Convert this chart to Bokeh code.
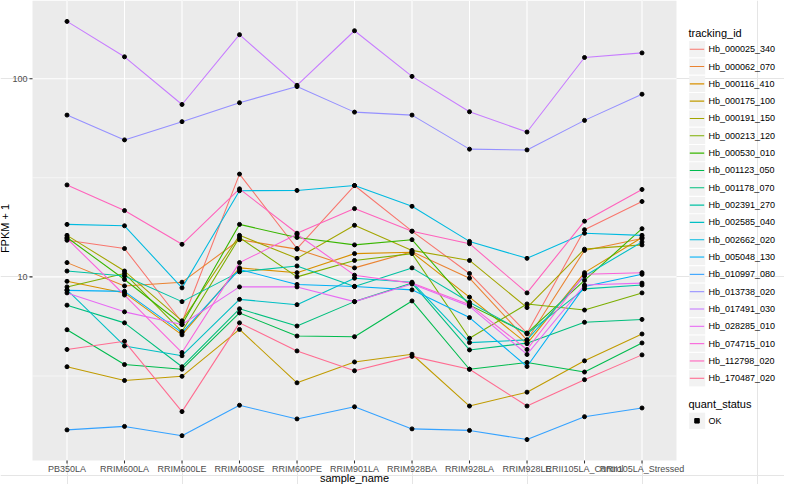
import math
import numpy as np
from bokeh.plotting import figure
from bokeh.models import Range1d, LogScale, ColumnDataSource
from bokeh.embed import file_html
from bokeh.resources import INLINE
from bokeh.core.properties import value

FONT = "Liberation Sans"

samples = ["PB350LA", "RRIM600LA", "RRIM600LE", "RRIM600SE", "RRIM600PE", "RRIM901LA",
           "RRIM928BA", "RRIM928LA", "RRIM928LE", "RRII105LA_Control", "RRII105LA_Stressed"]

tracking_ids = ["Hb_000025_340", "Hb_000062_070", "Hb_000116_410", "Hb_000175_100",
                "Hb_000191_150", "Hb_000213_120", "Hb_000530_010", "Hb_001123_050",
                "Hb_001178_070", "Hb_002391_270", "Hb_002585_040", "Hb_002662_020",
                "Hb_005048_130", "Hb_010997_080", "Hb_013738_020", "Hb_017491_030",
                "Hb_028285_010", "Hb_074715_010", "Hb_112798_020", "Hb_170487_020"]

colors = ["#F8766D", "#EA8331", "#D89000", "#C09B00", "#A3A500", "#7CAE00", "#39B600",
          "#00BB4E", "#00BF7D", "#00C1A3", "#00BFC4", "#00BAE0", "#00B0F6", "#35A2FF",
          "#9590FF", "#C77CFF", "#E76BF3", "#FA62DB", "#FF62BC", "#FF6C91"]

# FPKM + 1 per sample (order of `samples`)
hb_000025_340 = [15.3, 13.9, 5.9, 33.0, 13.9, 28.9, 17.0, 10.4, 5.2, 17.3, 24.0]
hb_000062_070 = [11.8, 9.0, 9.4, 15.4, 13.8, 11.1, 13.4, 9.85, 4.8, 13.6, 15.6]
hb_000116_410 = [9.5, 8.3, 5.1, 11.1, 10.5, 13.1, 13.3, 7.9, 4.6, 10.5, 15.8]
hb_000175_100 = [3.52, 3.0, 3.15, 5.43, 2.92, 3.72, 4.07, 2.23, 2.62, 3.77, 5.15]
hb_000191_150 = [16.2, 10.7, 6.0, 16.2, 12.4, 18.2, 13.6, 12.1, 7.0, 13.8, 14.5]
hb_000213_120 = [8.9, 10.4, 5.3, 15.8, 10.0, 12.1, 13.1, 4.9, 7.3, 6.8, 8.3]
hb_000530_010 = [15.8, 9.7, 5.75, 18.4, 15.8, 14.5, 15.4, 7.2, 5.2, 9.6, 17.5]
hb_001123_050 = [5.41, 3.61, 3.42, 6.58, 5.03, 4.99, 7.56, 3.42, 3.70, 3.31, 4.64]
hb_001178_070 = [7.2, 5.86, 3.52, 6.9, 5.65, 7.5, 9.3, 4.28, 4.63, 5.9, 6.1]
hb_002391_270 = [10.7, 10.1, 7.5, 10.6, 11.35, 8.95, 11.1, 7.44, 5.16, 8.7, 9.1]
hb_002585_040 = [8.6, 4.48, 4.0, 7.7, 7.24, 9.85, 9.4, 4.66, 4.81, 10.1, 15.0]
hb_002662_020 = [18.4, 18.1, 8.8, 27.2, 27.3, 28.9, 22.7, 15.1, 12.4, 16.6, 16.2]
hb_005048_130 = [8.55, 8.45, 5.23, 10.9, 9.16, 8.95, 8.6, 6.23, 3.53, 8.95, 10.3]
hb_010997_080 = [1.69, 1.76, 1.58, 2.25, 1.92, 2.21, 1.71, 1.68, 1.51, 1.97, 2.18]
hb_013738_020 = [65.5, 49.1, 60.7, 75.6, 91.2, 67.8, 65.5, 44.1, 43.7, 61.6, 83.5]
hb_017491_030 = [194.5, 128.9, 74.1, 166.7, 92.6, 174.5, 102.7, 68.1, 53.8, 127.9, 134.9]
hb_028285_010 = [8.3, 6.66, 5.75, 8.9, 8.9, 7.5, 9.2, 7.1, 4.06, 9.1, 9.3]
hb_074715_010 = [15.6, 8.1, 4.15, 11.8, 16.4, 10.2, 9.3, 7.24, 4.3, 10.3, 10.5]
hb_112798_020 = [29.1, 21.6, 14.6, 27.8, 16.6, 22.1, 17.0, 14.7, 8.3, 19.1, 27.6]
hb_170487_020 = [4.3, 4.73, 2.09, 5.86, 4.23, 3.36, 3.97, 3.42, 2.23, 3.03, 4.04]

series = [hb_000025_340, hb_000062_070, hb_000116_410, hb_000175_100, hb_000191_150,
          hb_000213_120, hb_000530_010, hb_001123_050, hb_001178_070, hb_002391_270,
          hb_002585_040, hb_002662_020, hb_005048_130, hb_010997_080, hb_013738_020,
          hb_017491_030, hb_028285_010, hb_074715_010, hb_112798_020, hb_170487_020]

y_ticks = [10, 100]
y_tick_labels = ["10", "100"]
quant_status = ["OK"]

# ---- scale set-up: the whole canvas is the frame; the panel sits inside it ----
W, H = 784, 484
PL, PR, PT, PB = 32, 676, 0, 460          # panel box in canvas pixels
n = len(samples)
EXP = 0.6                                  # discrete axis expansion (ggplot)
xl, xr = -EXP, n - 1 + EXP
kx = (PR - PL) / (xr - xl)

allv = np.array(series, dtype=float)
lo, hi = np.log10(allv.min()), np.log10(allv.max())
pad = 0.05 * (hi - lo)
llo, lhi = lo - pad, hi + pad
ky = (PB - PT) / (lhi - llo)

def px(cx):
    return xl + (cx - PL) / kx

def py(cy):
    return 10 ** (lhi - (cy - PT) / ky)

p = figure(width=W, height=H,
           x_range=Range1d(px(0), px(W)), y_range=Range1d(py(H), py(0)),
           y_axis_type="log", x_axis_location=None, y_axis_location=None,
           toolbar_location=None, output_backend="svg", min_border=0)
p.y_scale = LogScale()
p.background_fill_color = "white"
p.border_fill_color = "white"
p.outline_line_color = None

xs = list(range(n))
ylo, yhi = 10 ** llo, 10 ** lhi

# panel background and grid
p.quad(left=[xl], right=[xr], bottom=[ylo], top=[yhi], fill_color="#EBEBEB", line_color=None)
minor = [10 ** (m + 0.5) for m in range(0, 3) if ylo < 10 ** (m + 0.5) < yhi]
p.segment(x0=[xl] * len(minor), x1=[xr] * len(minor), y0=minor, y1=minor,
          line_color="white", line_width=0.53)
p.segment(x0=[xl] * len(y_ticks), x1=[xr] * len(y_ticks), y0=y_ticks, y1=y_ticks,
          line_color="white", line_width=1.07)
p.segment(x0=xs, x1=xs, y0=[ylo] * n, y1=[yhi] * n, line_color="white", line_width=1.07)

# data
for vals, c in zip(series, colors):
    p.line(x=xs, y=vals, line_color=c, line_width=1.07)
pts = ColumnDataSource(dict(
    x=[i for _ in series for i in xs],
    y=[v for vals in series for v in vals],
))
p.scatter(x="x", y="y", source=pts, size=4, color="black", marker="circle")

# axes: ticks, tick labels, titles
p.segment(x0=xs, x1=xs, y0=[py(PB)] * n, y1=[py(PB + 3)] * n, line_color="#333333", line_width=1.07)
p.text(x=xs, y=[py(PB + 8.5)] * n, text=samples, text_font=value(FONT), text_font_size="9px",
       text_color="#4D4D4D", text_align="center", text_baseline="middle")
p.segment(x0=[px(PL - 3)] * len(y_ticks), x1=[px(PL)] * len(y_ticks), y0=y_ticks, y1=y_ticks,
          line_color="#333333", line_width=1.07)
p.text(x=[px(PL - 5)] * len(y_ticks), y=y_ticks, text=y_tick_labels, text_font=value(FONT),
       text_font_size="9px", text_color="#4D4D4D", text_align="right", text_baseline="middle")
p.text(x=[(xl + xr) / 2], y=[py(PB + 17.5)], text=["sample_name"], text_font=value(FONT),
       text_font_size="11px", text_color="black", text_align="center", text_baseline="middle")
p.text(x=[px(4.5)], y=[py((PT + PB) / 2 - 2)], text=["FPKM + 1"], text_font=value(FONT),
       text_font_size="11px", text_color="black", text_align="center", text_baseline="middle",
       angle=math.pi / 2)

# legend: tracking_id
KX0, KX1 = 688.7, 704.7
step = 17.32
y0 = 48.7
ys = [y0 + i * step for i in range(len(tracking_ids))]
p.text(x=[px(688)], y=[py(32)], text=["tracking_id"], text_font=value(FONT), text_font_size="11px",
       text_color="black", text_align="left", text_baseline="middle")
m = len(ys)
p.quad(left=[px(KX0)] * m, right=[px(KX1)] * m, top=[py(v - 8.1) for v in ys],
       bottom=[py(v + 8.1) for v in ys], fill_color="#F2F2F2", line_color=None)
p.segment(x0=[px(KX0 + 0.6)] * m, x1=[px(KX1 - 1.0)] * m, y0=[py(v) for v in ys],
          y1=[py(v) for v in ys], line_color=colors, line_width=1.1)
p.text(x=[px(708)] * m, y=[py(v) for v in ys], text=tracking_ids, text_font=value(FONT),
       text_font_size="9px", text_color="black", text_align="left", text_baseline="middle")

# legend: quant_status
qy = 403.7
p.text(x=[px(688)], y=[py(qy)], text=["quant_status"], text_font=value(FONT), text_font_size="11px",
       text_color="black", text_align="left", text_baseline="middle")
oky = [qy + 16.6 + i * step for i in range(len(quant_status))]
q = len(oky)
p.quad(left=[px(KX0)] * q, right=[px(KX1)] * q, top=[py(v - 8.1) for v in oky],
       bottom=[py(v + 8.1) for v in oky], fill_color="#F2F2F2", line_color=None)
p.scatter(x=[px(696.5)] * q, y=[py(v) for v in oky], size=4.5, marker="square", color="black")
p.text(x=[px(708)] * q, y=[py(v) for v in oky], text=quant_status, text_font=value(FONT),
       text_font_size="9px", text_color="black", text_align="left", text_baseline="middle")

open("out.html", "w").write(file_html(p, INLINE))
